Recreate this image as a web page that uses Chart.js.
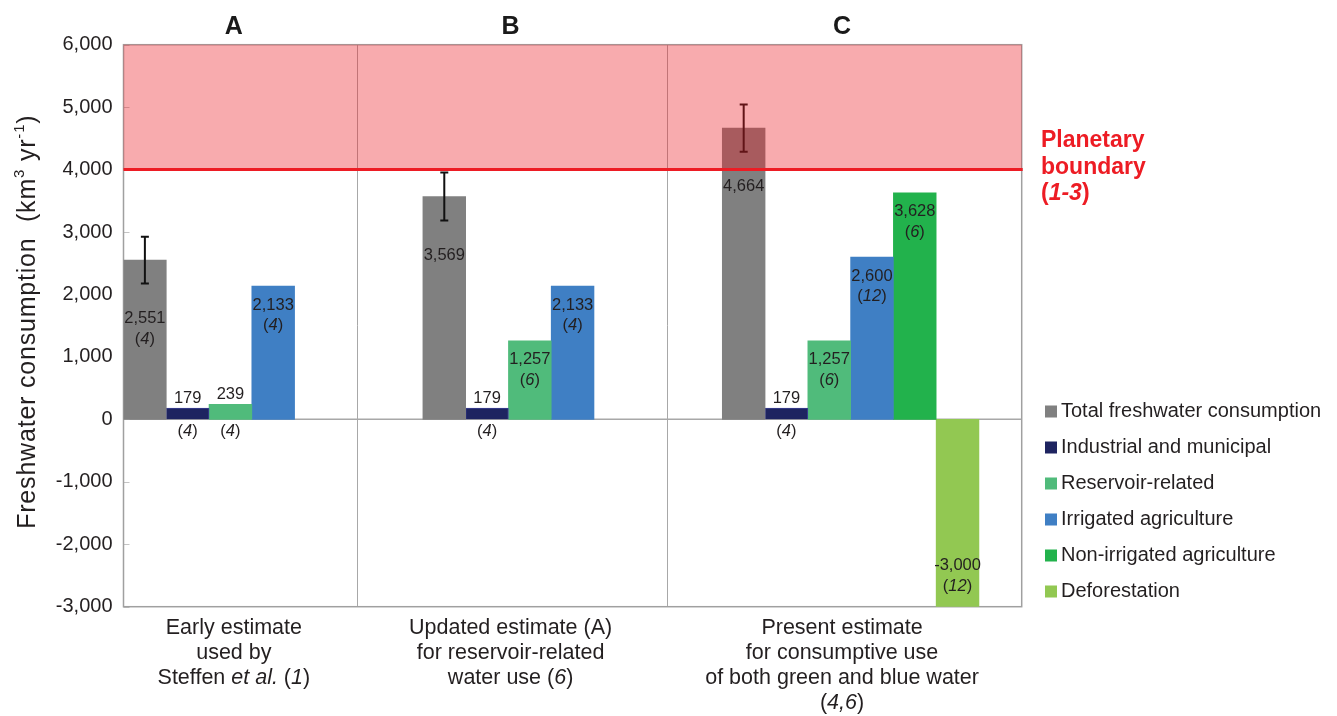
<!DOCTYPE html>
<html>
<head>
<meta charset="utf-8">
<script src="https://cdn.jsdelivr.net/npm/chart.js@4.4.1/dist/chart.umd.min.js"></script>
<style>
  html, body { margin: 0; padding: 0; background: #fff; }
  #wrap { position: relative; width: 1337px; height: 716px; }
</style>
</head>
<body>
<div id="wrap"><canvas id="waterChart"></canvas></div>
<script>
// one value per estimate: A, B, C
const groups = ['A', 'B', 'C'];
const total = [2551, 3569, 4664];
const totalError = [375, 385, 380];
const industrial = [179, 179, 179];
const reservoir = [239, 1257, 1257];
const irrigated = [2133, 2133, 2600];
const nonIrrigated = [null, null, 3628];
const deforestation = [null, null, -3000];

// reference numbers shown in brackets under the values
const totalRefs = ['4', '', ''];
const industrialRefs = ['4', '4', '4'];
const reservoirRefs = ['4', '6', '6'];
const irrigatedRefs = ['4', '4', '12'];
const nonIrrigatedRefs = ['', '', '6'];
const deforestationRefs = ['', '', '12'];

const yMin = -3000, yMax = 6000, yStep = 1000;
const boundary = 4000;

// captions under each panel, _text_ is italic
const captions = [
  ['Early estimate', 'used by', 'Steffen _et al._ (_1_)'],
  ['Updated estimate (A)', 'for reservoir-related', 'water use (_6_)'],
  ['Present estimate', 'for consumptive use', 'of both green and blue water', '(_4,6_)']
];

const series = [
  { label: 'Total freshwater consumption', values: total, refs: totalRefs, color: '#808080' },
  { label: 'Industrial and municipal', values: industrial, refs: industrialRefs, color: '#1e2460', border: '#3b3f96' },
  { label: 'Reservoir-related', values: reservoir, refs: reservoirRefs, color: '#50bb7b' },
  { label: 'Irrigated agriculture', values: irrigated, refs: irrigatedRefs, color: '#3f7fc4' },
  { label: 'Non-irrigated agriculture', values: nonIrrigated, refs: nonIrrigatedRefs, color: '#22b24c' },
  { label: 'Deforestation', values: deforestation, refs: deforestationRefs, color: '#92c852' }
];

// layout on the x axis, in bar widths
const slots = 21;
const groupStart = [0, 7, 14];
const groupCenter = [2.58, 9.05, 16.8];
const separators = [5.47, 12.71];

const FONT = '"Liberation Sans", Arial, Helvetica, sans-serif';
const TEXT = '#231f20';

function richText(ctx, str, cx, cy, size, weight, color) {
  const parts = str.split('_');
  const fonts = parts.map((p, i) => (i % 2 ? 'italic ' : '') + weight + ' ' + size + 'px ' + FONT);
  let widths = parts.map((p, i) => { ctx.font = fonts[i]; return ctx.measureText(p).width; });
  let w = widths.reduce((a, b) => a + b, 0);
  let x = cx - w / 2;
  ctx.fillStyle = color;
  ctx.textAlign = 'left';
  ctx.textBaseline = 'middle';
  parts.forEach((p, i) => {
    ctx.font = fonts[i];
    ctx.fillText(p, x, cy);
    x += widths[i];
  });
}

const datasets = series.map((s, si) => ({
  label: s.label,
  data: s.values.map((v, g) => v == null ? null : { x: groupStart[g] + si + 0.5, y: v, g: g }).filter(Boolean),
  backgroundColor: s.color,
  borderColor: s.border || s.color,
  borderWidth: s.border ? 1 : 0,
  grouped: false,
  barPercentage: 1,
  categoryPercentage: 1
}));

const decorations = {
  id: 'decorations',
  beforeDatasetsDraw(chart) {
    const { ctx, chartArea: a, scales: { x, y } } = chart;
    ctx.save();
    ctx.strokeStyle = '#a8a8a8';
    ctx.lineWidth = 1;
    separators.forEach(s => {
      const px = Math.round(x.getPixelForValue(s)) + 0.5;
      ctx.beginPath(); ctx.moveTo(px, a.top); ctx.lineTo(px, a.bottom); ctx.stroke();
    });
    ctx.lineWidth = 1.5;
    const z = y.getPixelForValue(0);
    ctx.beginPath(); ctx.moveTo(a.left, z); ctx.lineTo(a.right, z); ctx.stroke();
    ctx.strokeStyle = '#c4c4c4';
    ctx.lineWidth = 1;
    y.ticks.forEach(t => {
      const py = Math.round(y.getPixelForValue(t.value)) + 0.5;
      ctx.beginPath(); ctx.moveTo(a.left, py); ctx.lineTo(a.left + 6, py); ctx.stroke();
    });
    ctx.strokeStyle = '#a0a0a0';
    ctx.lineWidth = 1.5;
    ctx.strokeRect(a.left, a.top, a.right - a.left, a.bottom - a.top);
    ctx.restore();
  },
  afterDatasetsDraw(chart) {
    const { ctx, chartArea: a, scales: { y } } = chart;
    ctx.save();
    // error bars on total consumption
    ctx.strokeStyle = '#111';
    ctx.lineWidth = 2;
    chart.getDatasetMeta(0).data.forEach((bar, i) => {
      const g = datasets[0].data[i].g;
      const hi = y.getPixelForValue(total[g] + totalError[g]);
      const lo = y.getPixelForValue(total[g] - totalError[g]);
      ctx.beginPath();
      ctx.moveTo(bar.x, hi); ctx.lineTo(bar.x, lo);
      ctx.moveTo(bar.x - 4, hi); ctx.lineTo(bar.x + 4, hi);
      ctx.moveTo(bar.x - 4, lo); ctx.lineTo(bar.x + 4, lo);
      ctx.stroke();
    });
    // zone beyond the planetary boundary
    const yb = y.getPixelForValue(boundary);
    ctx.fillStyle = 'rgba(236, 28, 36, 0.37)';
    ctx.fillRect(a.left, a.top, a.right - a.left, yb - a.top);
    ctx.strokeStyle = '#ed1c24';
    ctx.lineWidth = 3;
    ctx.beginPath(); ctx.moveTo(a.left, yb); ctx.lineTo(a.right + 1, yb); ctx.stroke();

    // value labels
    const z = y.getPixelForValue(0);
    series.forEach((s, si) => {
      chart.getDatasetMeta(si).data.forEach((bar, i) => {
        const g = datasets[si].data[i].g;
        const v = s.values[g];
        const txt = v.toLocaleString('en-US');
        const ref = s.refs[g] ? '(_' + s.refs[g] + '_)' : '';
        let y1, y2;
        if (si === 0) {
          y1 = y.getPixelForValue(v - totalError[g]) + 35; y2 = y1 + 20.5;
        } else if (v < 0) {
          y1 = bar.y - 41; y2 = bar.y - 20;
        } else if (v < 800) {
          y1 = bar.y - 10; y2 = z + 12.5;
        } else {
          y1 = bar.y + 19; y2 = y1 + 20.5;
        }
        richText(ctx, txt, bar.x, y1, 16.5, 'normal', TEXT);
        if (ref) richText(ctx, ref, bar.x, y2, 16.5, 'normal', TEXT);
      });
    });
    ctx.restore();
  },
  afterDraw(chart) {
    const { ctx, chartArea: a, scales: { x } } = chart;
    ctx.save();
    // panel letters and captions
    groups.forEach((name, g) => {
      const cx = x.getPixelForValue(groupCenter[g]);
      ctx.font = 'bold 25px "Liberation Sans Narrow", ' + FONT;
      ctx.fillStyle = '#1a1a1a';
      ctx.textAlign = 'center';
      ctx.textBaseline = 'middle';
      ctx.fillText(name, cx, 27);
      captions[g].forEach((line, k) => richText(ctx, line, cx, 628 + k * 25, 21.5, 'normal', TEXT));
    });

    // y axis title with superscripts
    ctx.save();
    ctx.translate(28, (a.top + a.bottom) / 2 - 4);
    ctx.rotate(-Math.PI / 2);
    ctx.letterSpacing = '0.8px';
    const runs = [
      ['Freshwater consumption  (km', 25, 0],
      ['3', 15, -8],
      [' yr', 25, 0],
      ['-1', 15, -8],
      [')', 25, 0]
    ];
    const w = runs.map(r => { ctx.font = r[1] + 'px ' + FONT; return ctx.measureText(r[0]).width; });
    let px = -w.reduce((p, c) => p + c, 0) / 2;
    ctx.fillStyle = TEXT;
    ctx.textAlign = 'left';
    ctx.textBaseline = 'middle';
    runs.forEach((r, i) => {
      ctx.font = r[1] + 'px ' + FONT;
      ctx.fillText(r[0], px, r[2]);
      px += w[i];
    });
    ctx.restore();

    // planetary boundary note
    ['Planetary', 'boundary', '(_1-3_)'].forEach((line, k) => {
      const parts = line.split('_');
      let lx = 1041;
      ctx.textAlign = 'left';
      ctx.textBaseline = 'middle';
      ctx.fillStyle = '#ed1c24';
      parts.forEach((p, i) => {
        ctx.font = (i % 2 ? 'italic ' : '') + 'bold 23px ' + FONT;
        ctx.fillText(p, lx, 141 + k * 26.5);
        lx += ctx.measureText(p).width;
      });
    });

    // legend
    series.forEach((s, si) => {
      const ly = 411.5 + si * 36;
      ctx.fillStyle = s.color;
      ctx.fillRect(1045, ly - 6, 12, 12);
      ctx.fillStyle = TEXT;
      ctx.font = '20px ' + FONT;
      ctx.textAlign = 'left';
      ctx.textBaseline = 'middle';
      ctx.fillText(s.label, 1061, ly);
    });
    ctx.restore();
  }
};

new Chart(document.getElementById('waterChart'), {
  type: 'bar',
  data: { datasets: datasets },
  options: {
    responsive: true,
    maintainAspectRatio: false,
    animation: false,
    layout: { padding: { left: 0, top: 44.7, right: 315.3, bottom: 109.3 } },
    plugins: { legend: { display: false }, tooltip: { enabled: false } },
    scales: {
      x: {
        type: 'linear',
        min: 0,
        max: slots,
        offset: false,
        display: false,
        ticks: { stepSize: 1 }
      },
      y: {
        min: yMin,
        max: yMax,
        ticks: {
          stepSize: yStep,
          padding: 11,
          color: TEXT,
          font: { family: FONT, size: 20 },
          callback: v => v.toLocaleString('en-US')
        },
        grid: { display: false, drawTicks: false },
        border: { display: false },
        afterFit: scale => { scale.width = 123.5; }
      }
    }
  },
  plugins: [decorations]
});
</script>
</body>
</html>
